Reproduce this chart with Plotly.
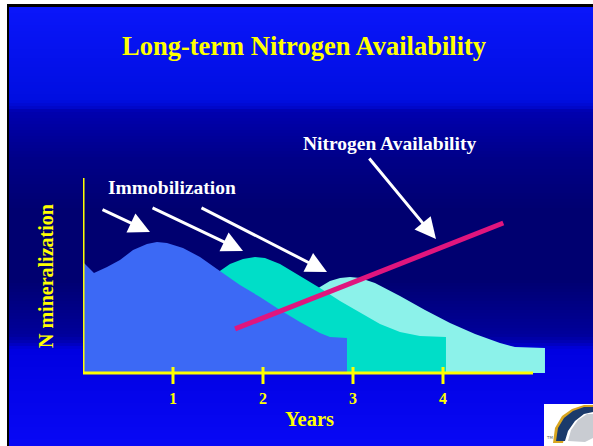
import plotly.graph_objects as go

# area curves (x in years, y in arbitrary N-mineralization units)
blue_x = [0, 0.122, 0.267, 0.411, 0.556, 0.711, 0.822, 0.933, 1.111, 1.3, 1.489,
          1.744, 1.967, 2.189, 2.411, 2.633, 2.744, 2.933, 2.933]
blue_y = [56.9, 51.3, 54.4, 57.9, 63.1, 66.2, 67.2, 66.7, 64.1, 59.5, 53.3,
          45.1, 39.0, 32.3, 26.2, 20.5, 18.5, 17.9, 0]

teal_x = [1.356, 1.489, 1.633, 1.778, 1.911, 2.022, 2.189, 2.411, 2.633, 2.856,
          3.078, 3.3, 3.522, 3.744, 4.033, 4.033]
teal_y = [45.1, 51.3, 55.9, 58.5, 59.5, 59.0, 55.9, 49.7, 43.6, 36.9,
          30.8, 25.1, 21.0, 19.0, 18.5, 0]

cyan_x = [2.522, 2.633, 2.744, 2.856, 2.967, 3.078, 3.244, 3.522, 3.8, 4.078,
          4.356, 4.633, 4.8, 5.133, 5.133]
cyan_y = [40.0, 44.1, 47.2, 48.7, 49.2, 48.7, 46.2, 39.5, 32.3, 25.6,
          20.0, 15.4, 13.3, 12.8, 0]

# nitrogen availability line
avail_x = [1.69, 4.67]
avail_y = [22.6, 76.9]

tick_vals = [1, 2, 3, 4]
tick_text = ["1", "2", "3", "4"]

# arrows: (tail x, tail y, head x, head y)
arrows = [
    (0.20, 84.1, 0.744, 72.3),
    (0.756, 85.1, 1.778, 62.6),
    (1.30, 85.1, 2.711, 51.8),
    (3.167, 110.8, 3.922, 68.7),
]

YELLOW = "#FFFF00"
SERIF = "Liberation Serif, Times New Roman, serif"

# plot area geometry in pixels (used for decorative shapes only)
W, H = 593, 446
L, R, T, B = 83, 15, 178, 73
PW, PH = W - L - R, H - T - B


def px(x, y):
    """pixel position -> paper coords"""
    return (x - L) / PW, (H - B - y) / PH


def lerp_color(stops, y):
    for (y0, c0), (y1, c1) in zip(stops, stops[1:]):
        if y0 <= y <= y1:
            t = (y - y0) / (y1 - y0) if y1 > y0 else 0
            return "rgb(%d,%d,%d)" % tuple(round(a + (b - a) * t) for a, b in zip(c0, c1))
    return "rgb(%d,%d,%d)" % stops[-1][1]


bg_stops = [
    (7, (10, 22, 250)), (100, (0, 14, 225)), (107, (0, 8, 205)),
    (111, (0, 0, 175)), (160, (0, 0, 135)), (210, (0, 0, 112)),
    (280, (0, 0, 112)), (335, (0, 0, 155)), (343, (0, 0, 185)),
    (349, (0, 0, 225)), (446, (8, 8, 245)),
]

shapes = []
for y in range(7, H, 3):
    x0, y0 = px(9, y)
    x1, y1 = px(W, min(y + 3, H))
    shapes.append(dict(type="rect", xref="paper", yref="paper", x0=x0, x1=x1, y0=y0, y1=y1,
                       fillcolor=lerp_color(bg_stops, y + 1.5), line_width=0, layer="below"))
# black frame edges
for a, b in [((7, 4), (9, H)), ((7, 4), (W, 7))]:
    x0, y0 = px(*a)
    x1, y1 = px(*b)
    shapes.append(dict(type="rect", xref="paper", yref="paper", x0=x0, x1=x1, y0=y0, y1=y1,
                       fillcolor="black", line_width=0, layer="below"))

# axes (yref paper so they are not clipped at the plot edge)
axis_line = dict(color=YELLOW, width=3)
shapes.append(dict(type="line", xref="x", yref="paper", x0=0, x1=0, y0=0, y1=1, line=axis_line))
shapes.append(dict(type="line", xref="x", yref="paper", x0=0, x1=5, y0=0, y1=0, line=axis_line))
for v in tick_vals:
    shapes.append(dict(type="line", xref="x", yref="paper", x0=v, x1=v,
                       y0=px(0, 384)[1], y1=px(0, 367)[1], line=axis_line))

# logo (rough)
def path(points):
    pts = [px(*p) for p in points]
    return "M " + " L ".join("%.4f,%.4f" % p for p in pts) + " Z"

x0, y0 = px(544, 404)
x1, y1 = px(W, H)
shapes.append(dict(type="rect", xref="paper", yref="paper", x0=x0, x1=x1, y0=y0, y1=y1,
                   fillcolor="white", line_width=0))
shapes.append(dict(type="path", xref="paper", yref="paper", fillcolor="#D8A520", line_width=0,
                   path=path([(553, 443), (555, 428), (562, 416), (572, 409), (584, 405), (593, 405),
                              (593, 410), (583, 411), (573, 418), (566, 430), (563, 443)])))
shapes.append(dict(type="path", xref="paper", yref="paper", fillcolor="#1B3A6B", line_width=0,
                   path=path([(556, 441), (558, 428), (564, 418), (573, 411), (584, 407), (593, 407),
                              (593, 412), (584, 414), (575, 421), (568, 431), (565, 441)])))
shapes.append(dict(type="path", xref="paper", yref="paper", fillcolor="#C9CCD2", line_width=0,
                   path=path([(568, 441), (571, 430), (578, 420), (587, 414), (593, 414),
                              (593, 438), (585, 442)])))

fig = go.Figure()
fig.add_trace(go.Scatter(x=cyan_x, y=cyan_y, fill="tozeroy", mode="lines",
                         fillcolor="#8CF2EA", line=dict(width=0, color="#8CF2EA")))
fig.add_trace(go.Scatter(x=teal_x, y=teal_y, fill="tozeroy", mode="lines",
                         fillcolor="#00DEC8", line=dict(width=0, color="#00DEC8")))
fig.add_trace(go.Scatter(x=blue_x, y=blue_y, fill="tozeroy", mode="lines",
                         fillcolor="#3C69F5", line=dict(width=0, color="#3C69F5")))
fig.add_trace(go.Scatter(x=avail_x, y=avail_y, mode="lines",
                         line=dict(width=5, color="#E0157E")))

annotations = []
for tx, ty, hx, hy in arrows:
    annotations.append(dict(x=hx, y=hy, ax=tx, ay=ty, xref="x", yref="y", axref="x", ayref="y",
                            showarrow=True, arrowhead=2, arrowsize=1.4, arrowwidth=3,
                            arrowcolor="white", text=""))


def label(x, y, text, size, color, angle=0):
    tx, ty = px(x, y)
    annotations.append(dict(x=tx, y=ty, xref="paper", yref="paper", showarrow=False,
                            xanchor="center", yanchor="middle", textangle=angle,
                            text=text, font=dict(family=SERIF, size=size, color=color)))


label(304, 46, "<b>Long-term Nitrogen Availability</b>", 26.5, YELLOW)
label(389, 143, "<b>Nitrogen Availability</b>", 19.5, "white")
label(172, 187, "<b>Immobilization</b>", 19.5, "white")
label(46, 276, "<b>N mineralization</b>", 20, YELLOW, -90)
label(309, 419, "<b>Years</b>", 20.5, YELLOW)
tx, ty = px(549, 437)
annotations.append(dict(x=tx, y=ty, xref="paper", yref="paper", showarrow=False,
                        xanchor="center", yanchor="middle",
                        text="TM", font=dict(family="DejaVu Sans", size=4, color="#666666")))

fig.update_layout(
    width=W, height=H,
    margin=dict(l=L, r=R, t=T, b=B),
    paper_bgcolor="white",
    plot_bgcolor="rgba(0,0,0,0)",
    showlegend=False,
    shapes=shapes,
    annotations=annotations,
    xaxis=dict(range=[0, PW / 90], showgrid=False, zeroline=False, showline=False,
               tickvals=tick_vals, ticktext=tick_text, ticks="", ticklabelstandoff=14,
               tickfont=dict(family=SERIF, size=16, color=YELLOW, weight="bold"), fixedrange=True),
    yaxis=dict(range=[0, 100], showgrid=False, zeroline=False, showline=False,
               showticklabels=False, fixedrange=True),
)

fig.write_html("out.html", config={"displayModeBar": False},
               post_script="document.body.style.margin='0';document.body.style.overflow='hidden';")
